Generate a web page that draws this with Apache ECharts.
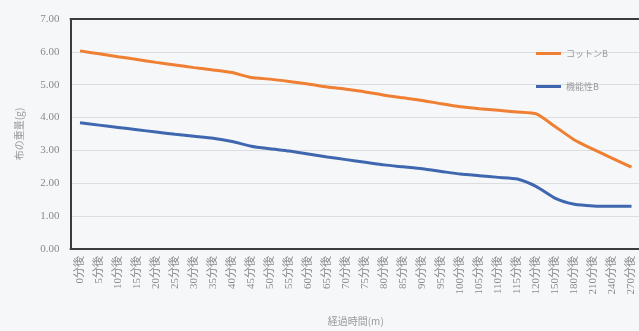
<!DOCTYPE html>
<html>
<head>
<meta charset="utf-8">
<script src="https://cdn.jsdelivr.net/npm/echarts@6/dist/echarts.min.js"></script>
<style>
  html, body { margin: 0; padding: 0; background: #f6f7f9; }
  #chart { width: 639px; height: 331px; }
</style>
</head>
<body>
<div id="chart"></div>
<script>
// Elapsed time categories
const categories = [
  '0分後', '5分後', '10分後', '15分後', '20分後', '25分後', '30分後', '35分後',
  '40分後', '45分後', '50分後', '55分後', '60分後', '65分後', '70分後', '75分後',
  '80分後', '85分後', '90分後', '95分後', '100分後', '105分後', '110分後', '115分後',
  '120分後', '150分後', '180分後', '210分後', '240分後', '270分後'
];

// Cloth weight (g)
const cottonB = [
  6.03, 5.94, 5.85, 5.77, 5.68, 5.60, 5.52, 5.45, 5.37, 5.22,
  5.17, 5.10, 5.02, 4.93, 4.86, 4.78, 4.68, 4.60, 4.52, 4.42,
  4.33, 4.27, 4.22, 4.17, 4.11, 3.72, 3.32, 3.03, 2.76, 2.49
];
const functionalB = [
  3.84, 3.77, 3.70, 3.63, 3.56, 3.49, 3.43, 3.37, 3.27, 3.13,
  3.05, 2.98, 2.89, 2.80, 2.72, 2.64, 2.56, 2.50, 2.44, 2.36,
  2.28, 2.23, 2.18, 2.13, 1.90, 1.54, 1.36, 1.31, 1.30, 1.30
];

const seriesNames = ['コットンB', '機能性B'];
const yTicks = { min: 0, max: 7, interval: 1 };

const chart = echarts.init(document.getElementById('chart'), null, { renderer: 'canvas' });
const textFont = "'Liberation Serif', 'Noto Sans CJK JP', serif";
const cjkFont = "'Noto Sans CJK JP', sans-serif";
const frameColor = '#3c3c3c';
const frameLine = () => ({ show: true, onZero: false, lineStyle: { color: frameColor, width: 2 } });

chart.setOption({
  backgroundColor: '#f6f7f9',
  animation: false,
  // the plot frame runs a little past the right edge of the canvas
  grid: {
    left: 70.5, width: 570.5, top: 19, bottom: 82,
    outerBoundsMode: 'none', containLabel: false
  },
  legend: {
    orient: 'vertical',
    left: 531, top: 44,
    itemGap: 24,
    itemWidth: 25, itemHeight: 10,
    icon: 'path://M0,3.5 L25,3.5 L25,6.5 L0,6.5 Z',
    textStyle: { color: '#9a9a9a', fontSize: 9, fontFamily: cjkFont },
    data: seriesNames
  },
  xAxis: [
    {
      type: 'category',
      data: categories,
      boundaryGap: true,
      name: '経過時間(m)',
      nameLocation: 'middle',
      nameGap: 67,
      nameTextStyle: { color: '#999', fontSize: 10, fontFamily: cjkFont },
      axisLine: frameLine(),
      axisTick: { show: false },
      axisLabel: {
        interval: 0, rotate: 90, margin: 7,
        color: '#8a8a8a', fontSize: 11, fontFamily: textFont
      },
      splitLine: { show: false }
    },
    {
      // top edge of the plot frame
      type: 'category',
      data: categories,
      position: 'top',
      axisLine: frameLine(),
      axisTick: { show: false },
      axisLabel: { show: false },
      splitLine: { show: false }
    }
  ],
  yAxis: {
    type: 'value',
    min: yTicks.min, max: yTicks.max, interval: yTicks.interval,
    name: '布の重量(g)',
    nameLocation: 'middle',
    nameGap: 46,
    nameRotate: 90,
    nameTextStyle: { color: '#999', fontSize: 10, fontFamily: cjkFont },
    axisLine: frameLine(),
    axisTick: { show: false },
    axisLabel: {
      margin: 11, color: '#8a8a8a', fontSize: 11, fontFamily: textFont,
      formatter: v => v.toFixed(2)
    },
    splitLine: { show: true, lineStyle: { color: '#dcdde0', width: 1 } }
  },
  series: [
    {
      name: seriesNames[0], type: 'line', data: cottonB,
      smooth: 0.2, symbol: 'none',
      lineStyle: { color: '#ef7f32', width: 3 },
      itemStyle: { color: '#ef7f32' }
    },
    {
      name: seriesNames[1], type: 'line', data: functionalB,
      smooth: 0.2, symbol: 'none',
      lineStyle: { color: '#3f67b0', width: 3 },
      itemStyle: { color: '#3f67b0' }
    }
  ]
});
</script>
</body>
</html>
